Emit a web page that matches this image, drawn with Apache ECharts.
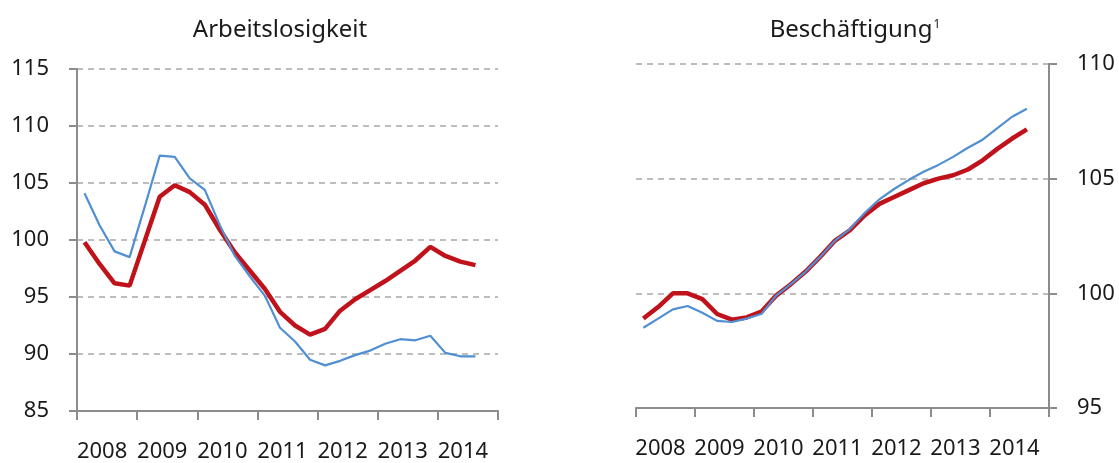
<html>
<head>
    <meta charset="utf-8">
    <script src="https://cdn.jsdelivr.net/npm/echarts@6/dist/echarts.min.js"></script>
    <style>
        body { margin: 0; background: #fff; }
    </style>
</head>
<body>
    <div id="main" style="width: 1119px;height:463px;"></div>
    <script>
        // quartalswerte 2008 Q1 .. 2014 Q3
        var years = ['2008', '2009', '2010', '2011', '2012', '2013', '2014'];

        // Arbeitslosigkeit
        var arbRot = [99.8, 97.9, 96.2, 96.0, 99.9, 103.8, 104.8, 104.2, 103.1, 100.9, 98.9, 97.3, 95.7, 93.7,
            92.5, 91.7, 92.2, 93.8, 94.8, 95.6, 96.4, 97.3, 98.2, 99.4, 98.6, 98.1, 97.8];
        var arbBlau = [104.1, 101.3, 99.0, 98.5, 102.9, 107.4, 107.3, 105.4, 104.4, 101.3, 98.6, 96.8, 95.1, 92.3,
            91.1, 89.5, 89.0, 89.4, 89.9, 90.3, 90.9, 91.3, 91.2, 91.6, 90.1, 89.8, 89.8];

        // Beschäftigung
        var besRot = [98.9, 99.4, 100.0, 100.0, 99.75, 99.1, 98.85, 98.95, 99.2, 99.9, 100.4, 100.95, 101.6, 102.3,
            102.75, 103.4, 103.9, 104.2, 104.5, 104.8, 105.0, 105.15, 105.4, 105.8, 106.3, 106.75, 107.15];
        var besBlau = [98.5, 98.9, 99.3, 99.45, 99.15, 98.8, 98.75, 98.9, 99.1, 99.9, 100.4, 100.95, 101.6, 102.3,
            102.8, 103.5, 104.1, 104.55, 104.95, 105.3, 105.6, 105.95, 106.35, 106.7, 107.2, 107.7, 108.05];

        var rot = '#c0121a';
        var blau = '#4f8fd2';
        var grau = '#8c8c8c';
        var font = '"Noto Sans", sans-serif';

        // quartal i liegt in der mitte seines abschnitts
        function pts(arr) {
            var out = [];
            for (var i = 0; i < arr.length; i++) {
                out.push([i + 0.5, arr[i]]);
            }
            return out;
        }

        function catAxis(g) {
            return {
                type: 'category',
                gridIndex: g,
                data: years,
                boundaryGap: true,
                axisLine: { onZero: false, lineStyle: { color: grau, width: 2 } },
                axisTick: { show: true, interval: 0, length: 9, lineStyle: { color: grau, width: 2 } },
                axisLabel: { interval: 0, margin: 30, fontSize: 22, color: '#1a1a1a', fontFamily: font,
                    padding: [0, 10, 0, 0] },
                splitLine: { show: false }
            };
        }
        function qAxis(g) {
            return { type: 'value', gridIndex: g, min: 0, max: 28, show: false,
                axisLine: { onZero: false } };
        }
        function valAxis(g, min, max, pos) {
            return {
                type: 'value',
                gridIndex: g,
                position: pos,
                min: min,
                max: max,
                interval: 5,
                axisLine: { show: true, onZero: false, lineStyle: { color: grau, width: 2 } },
                axisTick: { show: true, length: 8, lineStyle: { color: grau, width: 2 } },
                axisLabel: { margin: 28, fontSize: 22, color: '#1a1a1a', fontFamily: font },
                splitLine: { show: true, lineStyle: { type: [6, 5], color: '#a8a8a8', width: 1.5 } }
            };
        }
        function line(name, data, color, width, xi, yi, z) {
            return {
                name: name,
                type: 'line',
                xAxisIndex: xi,
                yAxisIndex: yi,
                data: pts(data),
                symbol: 'none',
                smooth: false,
                z: z,
                lineStyle: { color: color, width: width }
            };
        }

        var titleStyle = {
            fontSize: 24, fontWeight: 'normal', color: '#1a1a1a', fontFamily: font,
            rich: {
                sup: { fontSize: 12, color: '#1a1a1a', fontFamily: font, padding: [0, 0, 10, 1] }
            }
        };

        var myChart = echarts.init(document.getElementById('main'));
        var option = {
            animation: false,
            title: [{
                text: 'Arbeitslosigkeit',
                left: 275,
                top: 13,
                textAlign: 'center',
                textStyle: titleStyle
            }, {
                text: 'Beschäftigung{sup|1}',
                left: 850,
                top: 13,
                textAlign: 'center',
                textStyle: titleStyle
            }],
            grid: [
                { left: 77, top: 69, width: 421, height: 342 },
                { left: 636, top: 64, width: 413, height: 344 }
            ],
            xAxis: [catAxis(0), qAxis(0), catAxis(1), qAxis(1)],
            yAxis: [valAxis(0, 85, 115, 'left'), valAxis(1, 95, 110, 'right')],
            series: [
                line('rot', arbRot, rot, 4.5, 1, 0, 3),
                line('blau', arbBlau, blau, 2.2, 1, 0, 4),
                line('rot', besRot, rot, 4.5, 3, 1, 3),
                line('blau', besBlau, blau, 2.2, 3, 1, 4)
            ]
        };
        myChart.setOption(option);
    </script>
</body>
</html>
